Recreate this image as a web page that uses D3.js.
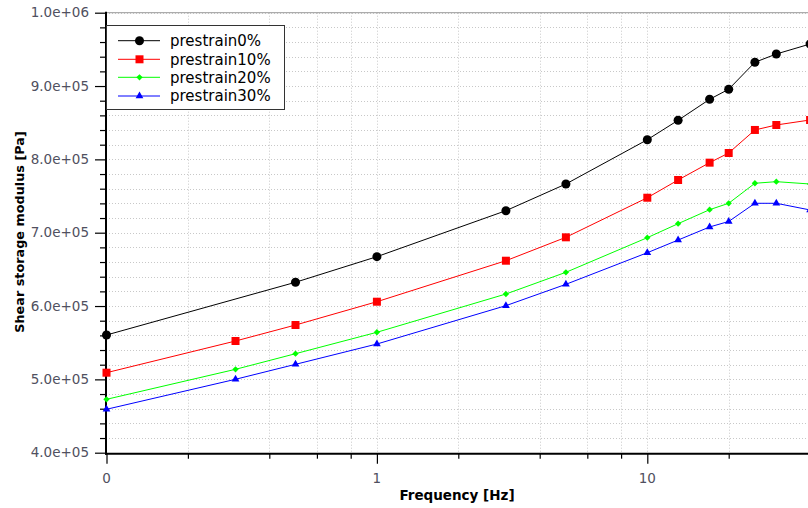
<!DOCTYPE html>
<html>
<head>
<meta charset="utf-8">
<script src="https://cdn.jsdelivr.net/npm/d3@7"></script>
<style>
  body { margin: 0; background: #fff; }
  svg { display: block; font-family: "DejaVu Sans", sans-serif; }
  .grid line { stroke: #c8c8c8; stroke-dasharray: 1,2; }
</style>
</head>
<body>
<script>
// frequencies (Hz) - black curve has no 0.3 Hz point
var freqBlack = [0.1, 0.5, 1, 3, 5, 10, 13, 17, 20, 25, 30, 40];
var freqOthers = [0.1, 0.3, 0.5, 1, 3, 5, 10, 13, 17, 20, 25, 30, 40];

// shear storage modulus values [Pa]
var prestrain0 = [560500, 632400, 667300, 730000, 766400, 826800, 853300, 881900, 895600, 932400, 943700, 957300];
var prestrain10 = [509100, 552300, 574100, 605900, 661800, 693700, 747700, 771900, 795500, 808700, 840100, 846900, 853700];
var prestrain20 = [472800, 513700, 535000, 564200, 616400, 646000, 693200, 712300, 731400, 740100, 767400, 769600, 766400];
var prestrain30 = [459200, 500100, 520500, 548200, 600500, 629600, 672700, 690000, 707800, 715300, 740100, 740100, 731000];

var seriesNames = ["prestrain0%", "prestrain10%", "prestrain20%", "prestrain30%"];

// tick values
var xMajor = [0.1, 1, 10];
var xMajorLabels = ["0", "1", "10"];
var xMinor = [0.2, 0.4, 0.6, 0.8, 2, 4, 6, 8, 20, 40];
var yMajor = [400000, 500000, 600000, 700000, 800000, 900000, 1000000];
var yMajorLabels = ["4.0e+05", "5.0e+05", "6.0e+05", "7.0e+05", "8.0e+05", "9.0e+05", "1.0e+06"];

var width = 808, height = 508;
var plotLeft = 106, plotTop = 12.7, plotBottom = 452.7;

var svg = d3.select("body").append("svg")
    .attr("width", width)
    .attr("height", height);

var x = d3.scaleLog().domain([0.1, 10]).range([plotLeft + 0.5, 647.3]);
var y = d3.scaleLinear().domain([400000, 1000000]).range([plotBottom, plotTop]);

var yMinor = d3.range(400000, 1000001, 20000).filter(function(v) { return v % 100000 !== 0; });

// grid
svg.append("g").attr("class", "grid")
  .selectAll("line")
  .data(d3.range(420000, 1000001, 20000))
  .enter().append("line")
  .attr("x1", plotLeft).attr("x2", width)
  .attr("y1", function(d) { return Math.round(y(d)) + 0.5; })
  .attr("y2", function(d) { return Math.round(y(d)) + 0.5; });

svg.append("g").attr("class", "grid")
  .selectAll("line")
  .data(xMajor.concat(xMinor).filter(function(d) { return d > 0.1; }))
  .enter().append("line")
  .attr("y1", plotTop).attr("y2", plotBottom)
  .attr("x1", function(d) { return Math.round(x(d)) + 0.5; })
  .attr("x2", function(d) { return Math.round(x(d)) + 0.5; });

// top frame line
svg.append("line")
  .attr("x1", plotLeft).attr("x2", width)
  .attr("y1", plotTop).attr("y2", plotTop)
  .attr("stroke", "#999").attr("stroke-width", 1);

// axis ticks (labels drawn separately below)
svg.append("g")
  .attr("transform", "translate(" + plotLeft + ",0)")
  .call(d3.axisLeft(y).tickValues(yMajor).tickSize(11).tickFormat(""));
svg.append("g")
  .attr("transform", "translate(" + plotLeft + ",0)")
  .call(d3.axisLeft(y).tickValues(yMinor).tickSize(6).tickFormat(""));
svg.append("g")
  .attr("transform", "translate(0," + (plotBottom + 1) + ")")
  .call(d3.axisBottom(x).tickValues(xMajor).tickSize(10).tickFormat(""));
svg.append("g")
  .attr("transform", "translate(0," + (plotBottom + 1) + ")")
  .call(d3.axisBottom(x).tickValues(xMinor).tickSize(5).tickFormat(""));

svg.selectAll(".domain").remove();
svg.selectAll(".tick line").attr("stroke", "#000").attr("stroke-width", 1.2);

// tick labels
svg.append("g")
  .attr("font-size", "13.5px")
  .attr("fill", "#505060")
  .selectAll("text")
  .data(yMajor)
  .enter().append("text")
  .attr("x", plotLeft - 17)
  .attr("y", function(d) { return y(d); })
  .attr("dy", "0.35em")
  .attr("text-anchor", "end")
  .text(function(d, i) { return yMajorLabels[i]; });

svg.append("g")
  .attr("font-size", "13.5px")
  .attr("fill", "#505060")
  .selectAll("text")
  .data(xMajor)
  .enter().append("text")
  .attr("x", function(d) { return x(d); })
  .attr("y", 478)
  .attr("dy", "0.35em")
  .attr("text-anchor", "middle")
  .text(function(d, i) { return xMajorLabels[i]; });

// thick axis lines
svg.append("line")
  .attr("x1", plotLeft).attr("x2", plotLeft)
  .attr("y1", plotTop - 1).attr("y2", plotBottom + 2)
  .attr("stroke", "#000").attr("stroke-width", 2);
svg.append("line")
  .attr("x1", plotLeft - 1).attr("x2", width)
  .attr("y1", plotBottom + 1).attr("y2", plotBottom + 1)
  .attr("stroke", "#000").attr("stroke-width", 2);

// axis titles
svg.append("text")
  .attr("x", 457).attr("y", 500)
  .attr("text-anchor", "middle")
  .attr("font-weight", "bold")
  .attr("font-size", "13.5px")
  .text("Frequency [Hz]");

svg.append("text")
  .attr("transform", "translate(24,232) rotate(-90)")
  .attr("text-anchor", "middle")
  .attr("font-weight", "bold")
  .attr("font-size", "12.8px")
  .text("Shear storage modulus [Pa]");

// series
var series = [
  { name: seriesNames[0], freq: freqBlack, vals: prestrain0, color: "#000000", symbol: d3.symbolCircle, size: 64, rot: 0 },
  { name: seriesNames[1], freq: freqOthers, vals: prestrain10, color: "#ff0000", symbol: d3.symbolSquare, size: 64, rot: 0 },
  { name: seriesNames[2], freq: freqOthers, vals: prestrain20, color: "#00ff00", symbol: d3.symbolSquare, size: 20, rot: 45 },
  { name: seriesNames[3], freq: freqOthers, vals: prestrain30, color: "#0000ff", symbol: d3.symbolTriangle, size: 26, rot: 0 }
];

var line = d3.line()
  .x(function(d) { return x(d[0]); })
  .y(function(d) { return y(d[1]); });

series.forEach(function(s) {
  var pts = s.freq.map(function(f, i) { return [f, s.vals[i]]; });
  svg.append("path")
    .datum(pts)
    .attr("d", line)
    .attr("fill", "none")
    .attr("stroke", s.color)
    .attr("stroke-width", 1);
  svg.selectAll(null)
    .data(pts)
    .enter().append("path")
    .attr("d", d3.symbol().type(s.symbol).size(s.size))
    .attr("transform", function(d) {
      return "translate(" + x(d[0]) + "," + y(d[1]) + ") rotate(" + s.rot + ")";
    })
    .attr("fill", s.color);
});

// legend
var legend = svg.append("g");
legend.append("rect")
  .attr("x", 106.5).attr("y", 25.5)
  .attr("width", 178).attr("height", 84)
  .attr("fill", "#fff")
  .attr("stroke", "#333");

var rowY = [40.7, 59.3, 77.3, 96];
series.forEach(function(s, i) {
  legend.append("line")
    .attr("x1", 118).attr("x2", 160)
    .attr("y1", rowY[i]).attr("y2", rowY[i])
    .attr("stroke", s.color);
  legend.append("path")
    .attr("d", d3.symbol().type(s.symbol).size(s.size))
    .attr("transform", "translate(139.5," + rowY[i] + ") rotate(" + s.rot + ")")
    .attr("fill", s.color);
  legend.append("text")
    .attr("x", 170).attr("y", rowY[i])
    .attr("dy", "0.35em")
    .attr("font-size", "15px")
    .text(s.name);
});
</script>
</body>
</html>
